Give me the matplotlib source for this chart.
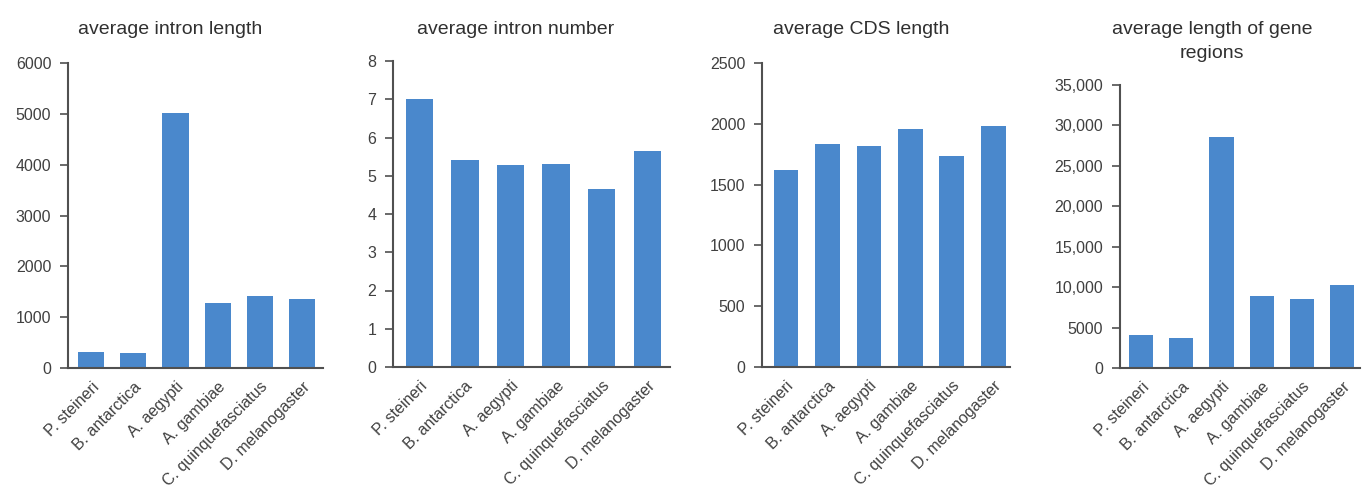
import numpy as np
import matplotlib.pyplot as plt
from matplotlib.ticker import FuncFormatter

plt.rcParams['font.family'] = ['Liberation Sans', 'DejaVu Sans']

species = ["P. steineri", "B. antarctica", "A. aegypti", "A. gambiae",
           "C. quinquefasciatus", "D. melanogaster"]

intron_length = [310, 290, 5020, 1280, 1410, 1360]
intron_number = [7.0, 5.4, 5.28, 5.31, 4.65, 5.65]
cds_length = [1620, 1830, 1815, 1955, 1735, 1980]
gene_region_length = [4100, 3700, 28600, 8900, 8500, 10300]

titles = ["average intron length", "average intron number",
          "average CDS length", "average length of gene\nregions"]
y_ticks = [np.arange(0, 6001, 1000), np.arange(0, 9, 1),
           np.arange(0, 2501, 500), np.arange(0, 35001, 5000)]

bar_color = "#4a88cc"
axis_color = "#505050"
text_color = "#404040"

fig = plt.figure(figsize=(13.62, 4.96), dpi=100)
W, H = 1362, 496

# panel boxes in pixels: left, right, top, bottom, xlim, title center x
panels = [
    (68, 323, 63, 368, (-0.55, 5.5), 170),
    (393, 670, 61, 367, (-0.58, 5.5), 516),
    (762, 1010, 63, 367, (-0.58, 5.4), 861),
    (1120, 1360, 85, 368, (-0.53, 5.45), 1212),
]
series = [intron_length, intron_number, cds_length, gene_region_length]
widths = [0.62, 0.6, 0.6, 0.6]


def comma_fmt(v, pos):
    v = int(v)
    return f"{v:,}" if v >= 10000 else f"{v}"


x = np.arange(len(species))
for i, (vals, (l, r, t, b, xl, tx)) in enumerate(zip(series, panels)):
    ax = fig.add_axes([l / W, 1 - b / H, (r - l) / W, (b - t) / H])
    ax.bar(x, vals, width=widths[i], color=bar_color, zorder=2)
    ax.set_xlim(*xl)
    ax.set_ylim(0, y_ticks[i][-1])
    ax.set_yticks(y_ticks[i])
    if i == 3:
        ax.yaxis.set_major_formatter(FuncFormatter(comma_fmt))
    ax.set_xticks(x)
    ax.set_xticklabels(species, rotation=45, ha="right",
                       rotation_mode="anchor", fontsize=11.5, color=text_color)
    ax.tick_params(axis="x", length=0, pad=8)
    ax.tick_params(axis="y", length=6, width=1.2, color=axis_color,
                   labelsize=11.5, labelcolor=text_color, pad=6)
    for s in ["top", "right"]:
        ax.spines[s].set_visible(False)
    for s in ["left", "bottom"]:
        ax.spines[s].set_color(axis_color)
        ax.spines[s].set_linewidth(1.5)
    fig.text(tx / W, 1 - 21 / H, titles[i], ha="center", va="top",
             fontsize=14, color="#303030", linespacing=1.55)

fig.savefig("out.png", dpi=100)
